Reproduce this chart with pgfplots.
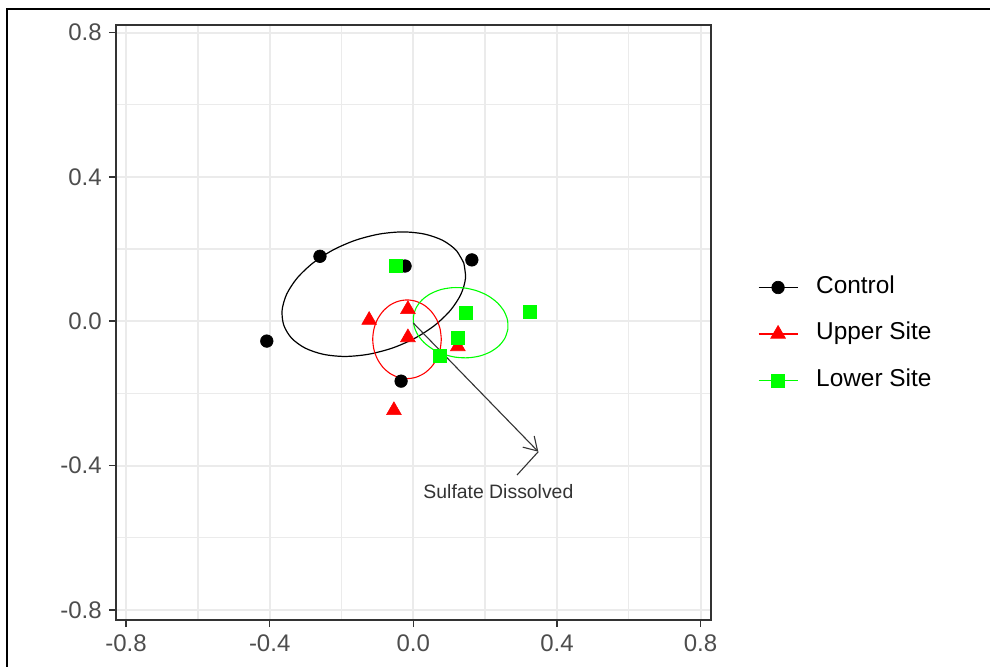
\documentclass[border=0pt]{standalone}
\usepackage{fontspec}
\setmainfont{Liberation Sans}
\usepackage{pgfplots}
\usepackage{pgfplotstable}
\pgfplotsset{compat=1.18}
\usetikzlibrary{arrows.meta}
\definecolor{grid92}{HTML}{EBEBEB}
\definecolor{g20}{HTML}{333333}
\definecolor{g30}{HTML}{4D4D4D}
\definecolor{lgreen}{HTML}{00FF00}
\definecolor{rred}{HTML}{FF0000}

\pgfplotstableread{
x y
-0.260 0.180
-0.408 -0.055
-0.023 0.153
0.163 0.170
-0.034 -0.166
}\ctrltab
\pgfplotstableread{
x y
-0.123 0.003
-0.015 0.033
-0.015 -0.045
-0.054 -0.247
0.124 -0.070
}\uppertab
\pgfplotstableread{
x y
-0.048 0.153
0.147 0.023
0.325 0.026
0.124 -0.045
0.074 -0.097
}\lowertab

\begin{document}
\begin{tikzpicture}
\useasboundingbox (0,0) rectangle (495pt,333.5pt);
\draw[line width=1pt] (3.35pt,-2pt) -- (3.35pt,328.85pt) -- (497pt,328.85pt);
\begin{axis}[
  at={(58pt,23.5pt)}, anchor=south west,
  scale only axis, width=297.5pt, height=297.5pt,
  xmin=-0.828, xmax=0.829, ymin=-0.828, ymax=0.821,
  xtick={-0.8,-0.4,0,0.4,0.8}, ytick={-0.8,-0.4,0,0.4,0.8},
  xticklabels={-0.8,-0.4,0.0,0.4,0.8}, yticklabels={-0.8,-0.4,0.0,0.4,0.8},
  minor xtick={-0.6,-0.2,0.2,0.6}, minor ytick={-0.6,-0.2,0.2,0.6},
  grid=both,
  major grid style={grid92, line width=1pt},
  minor grid style={grid92, line width=0.7pt},
  tick align=outside, tick pos=left,
  major tick length=3.6pt, minor tick length=0pt,
  tick style={g20, line width=0.8pt},
  axis line style={g20, line width=0.8pt},
  ticklabel style={font=\fontsize{12}{14}\selectfont, text=g30},
  legend image code/.code={\draw[mark repeat=2,mark phase=2,#1] plot coordinates {(0pt,0pt)(9.75pt,0pt)(19.5pt,0pt)};},
  legend style={draw=none, fill=none, inner sep=0pt, outer sep=0pt,
    at={(1.079,0.4807)}, anchor=west, row sep=11.25pt, column sep=9pt,
    font=\fontsize{12.2}{14}\selectfont,
    nodes={inner sep=0pt, text height=9pt, text depth=3pt}},
  legend cell align=left,
]
% points
\addplot[forget plot, black, only marks, mark=*, mark size=3.15pt, mark options={solid, draw=black, fill=black, line width=0.3pt}] table[x=x,y=y] {\ctrltab};
\addplot[forget plot, rred, only marks, mark=triangle*, mark size=4.25pt, mark options={solid, draw=rred, fill=rred, line width=0.3pt}] table[x=x,y=y] {\uppertab};
\addplot[forget plot, lgreen, only marks, mark=square*, mark size=3.25pt, mark options={solid, draw=lgreen, fill=lgreen, line width=0.3pt}] table[x=x,y=y] {\lowertab};
% ellipses
\addplot[forget plot, smooth, no marks, black, line width=0.6pt] coordinates {
(0.1406,0.1613) (0.1188,0.1971) (0.0813,0.2244) (0.0309,0.2416) (-0.0292,0.2476) (-0.0947,0.2416) (-0.1614,0.2244) (-0.2245,0.1970) (-0.2798,0.1612) (-0.3235,0.1196) (-0.3527,0.0750) (-0.3654,0.0303) (-0.3606,-0.0113) (-0.3388,-0.0471) (-0.3013,-0.0744) (-0.2509,-0.0916) (-0.1908,-0.0976) (-0.1253,-0.0916) (-0.0586,-0.0744) (0.0045,-0.0470) (0.0598,-0.0112) (0.1035,0.0304) (0.1327,0.0750) (0.1454,0.1197) (0.1406,0.1613)};
\addplot[forget plot, smooth, no marks, rred, line width=0.55pt] coordinates {
(0.0780,-0.050) (0.0747,-0.0218) (0.0652,0.0045) (0.0500,0.0271) (0.0303,0.0444) (0.0072,0.0553) (-0.0175,0.0590) (-0.0422,0.0553) (-0.0653,0.0444) (-0.0850,0.0271) (-0.1002,0.0045) (-0.1097,-0.0218) (-0.1130,-0.050) (-0.1097,-0.0782) (-0.1002,-0.1045) (-0.0850,-0.1271) (-0.0653,-0.1444) (-0.0422,-0.1553) (-0.0175,-0.1590) (0.0072,-0.1553) (0.0303,-0.1444) (0.0500,-0.1271) (0.0652,-0.1045) (0.0747,-0.0782) (0.0780,-0.050)};
\addplot[forget plot, smooth, no marks, lgreen, line width=0.55pt] coordinates {
(0.2634,-0.0220) (0.2623,0.0034) (0.2524,0.0283) (0.2342,0.0510) (0.2090,0.0700) (0.1787,0.0838) (0.1451,0.0918) (0.1107,0.0932) (0.0776,0.0880) (0.0484,0.0764) (0.0248,0.0595) (0.0085,0.0382) (0.0006,0.0140) (0.0017,-0.0114) (0.0116,-0.0363) (0.0298,-0.0590) (0.0550,-0.0780) (0.0853,-0.0918) (0.1189,-0.0998) (0.1533,-0.1012) (0.1864,-0.0960) (0.2156,-0.0844) (0.2392,-0.0675) (0.2555,-0.0462) (0.2634,-0.0220)};
% arrow
\addplot[forget plot, no marks, g20, line width=0.55pt, -{Straight Barb[length=6.5pt,width=8pt]}] coordinates {(0,-0.005) (0.348,-0.3615)};
\addplot[forget plot, no marks, g20, line width=0.55pt] coordinates {(0.348,-0.3615) (0.289,-0.426)};
\node[font=\fontsize{9.7}{11}\selectfont, text=g20, anchor=base] at (axis cs:0.237,-0.4925) {Sulfate Dissolved};
% legend
\addlegendimage{black, line width=0.6pt, mark=*, mark size=3.15pt, mark options={solid, draw=black, fill=black, line width=0.3pt}}
\addlegendentry{Control}
\addlegendimage{rred, line width=0.6pt, mark=triangle*, mark size=4.25pt, mark options={solid, draw=rred, fill=rred, line width=0.3pt}}
\addlegendentry{Upper Site}
\addlegendimage{lgreen, line width=0.6pt, mark=square*, mark size=3.25pt, mark options={solid, draw=lgreen, fill=lgreen, line width=0.3pt}}
\addlegendentry{Lower Site}
\end{axis}
\end{tikzpicture}
\end{document}
